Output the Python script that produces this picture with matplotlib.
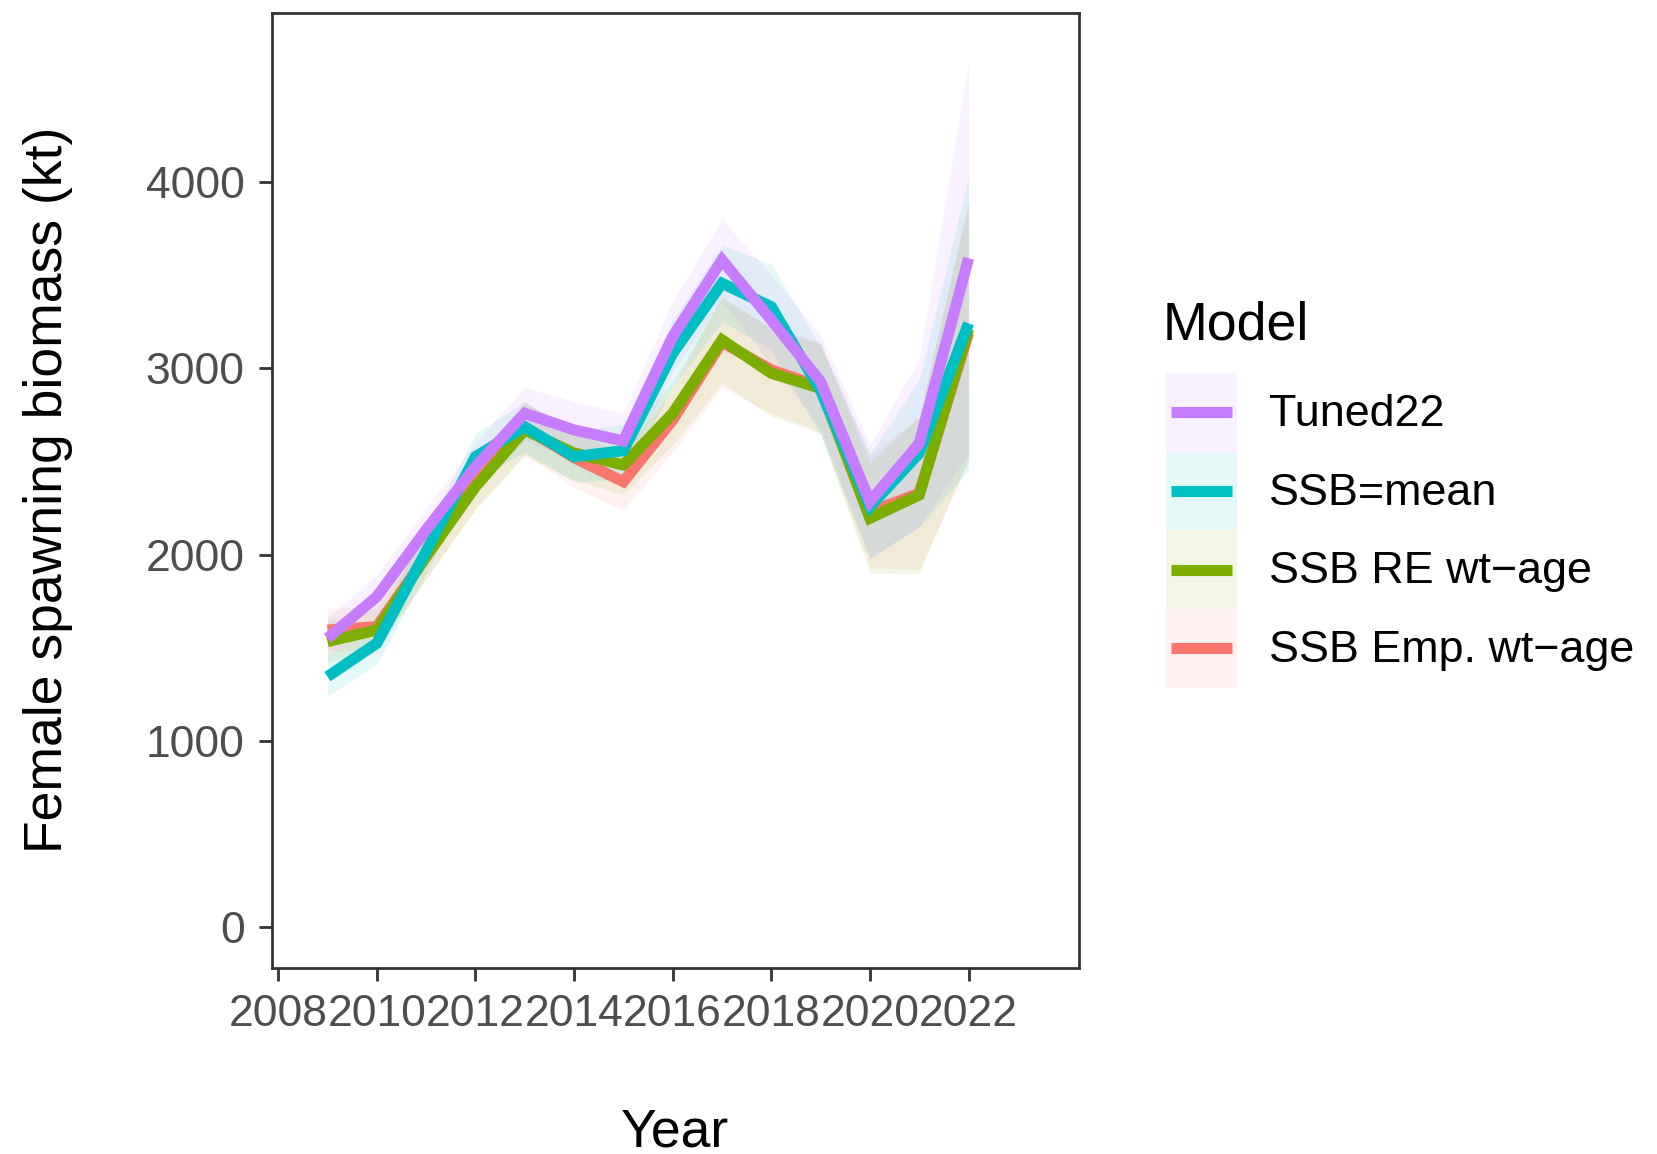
import matplotlib
matplotlib.use("Agg")
import matplotlib.pyplot as plt
from matplotlib.patches import Rectangle
from matplotlib.lines import Line2D
from matplotlib.legend_handler import HandlerTuple, HandlerBase

plt.rcParams['font.family'] = ['Liberation Sans', 'DejaVu Sans']

years = [2009, 2010, 2011, 2012, 2013, 2014, 2015, 2016, 2017, 2018, 2019, 2020, 2021, 2022]

models = ["Tuned22", "SSB=mean", "SSB RE wt\u2212age", "SSB Emp. wt\u2212age"]
colors = ["#C77CFF", "#00BFC4", "#7CAE00", "#F8766D"]

tuned22 = [1551, 1774, 2132, 2472, 2758, 2669, 2610, 3169, 3581, 3259, 2928, 2284, 2597, 3590]
tuned22_lo = [1440, 1660, 2010, 2340, 2610, 2520, 2450, 2980, 3360, 3020, 2680, 1980, 2150, 2540]
tuned22_hi = [1660, 1890, 2250, 2600, 2900, 2820, 2760, 3360, 3800, 3500, 3180, 2590, 3050, 4640]

ssb_mean = [1345, 1524, 2017, 2525, 2686, 2525, 2558, 3080, 3456, 3330, 2880, 2257, 2544, 3241]
ssb_mean_lo = [1240, 1410, 1900, 2400, 2550, 2390, 2400, 2900, 3250, 3100, 2640, 1980, 2150, 2450]
ssb_mean_hi = [1450, 1640, 2130, 2650, 2820, 2660, 2700, 3260, 3660, 3560, 3120, 2540, 2940, 4030]

re_wtage = [1533, 1595, 1989, 2364, 2669, 2545, 2481, 2758, 3152, 2973, 2892, 2195, 2320, 3210]
re_wtage_lo = [1420, 1480, 1870, 2240, 2530, 2400, 2320, 2590, 2920, 2740, 2650, 1900, 1900, 2520]
re_wtage_hi = [1650, 1710, 2110, 2490, 2810, 2690, 2620, 2930, 3380, 3210, 3130, 2490, 2740, 3900]

emp_wtage = [1595, 1613, 1990, 2380, 2680, 2520, 2391, 2722, 3140, 2991, 2900, 2230, 2329, 3188]
emp_wtage_lo = [1480, 1500, 1870, 2250, 2540, 2360, 2240, 2550, 2900, 2760, 2660, 1930, 1920, 2500]
emp_wtage_hi = [1710, 1730, 2110, 2510, 2820, 2660, 2540, 2890, 3380, 3220, 3140, 2530, 2740, 3880]

series = [tuned22, ssb_mean, re_wtage, emp_wtage]
lows = [tuned22_lo, ssb_mean_lo, re_wtage_lo, emp_wtage_lo]
highs = [tuned22_hi, ssb_mean_hi, re_wtage_hi, emp_wtage_hi]

xticks = [2008, 2010, 2012, 2014, 2016, 2018, 2020, 2022]
yticks = [0, 1000, 2000, 3000, 4000]

fig = plt.figure(figsize=(16.58, 11.54), dpi=100)
ax = fig.add_axes([0.1639, 0.1616, 0.4866, 0.8274])

dark = "#333333"
lw = 8.0
alpha = 0.10

# draw in ggplot factor order (reverse of legend): red, green, teal, purple
order = [3, 2, 1, 0]
for i in order:
    ax.fill_between(years, lows[i], highs[i], color=colors[i], alpha=alpha, linewidth=0)
for i in order:
    ax.plot(years, series[i], color=colors[i], lw=lw, solid_joinstyle='miter',
            solid_capstyle='butt')

ax.set_xlim(2007.87, 2024.23)
ax.set_ylim(-216, 4908)
ax.set_xticks(xticks)
ax.set_xticklabels([str(t) for t in xticks])
ax.set_yticks(yticks)
ax.set_yticklabels([str(t) for t in yticks])

for s in ax.spines.values():
    s.set_color(dark)
    s.set_linewidth(2.0)
ax.tick_params(axis='both', colors=dark, width=2.0, length=9.5, labelsize=32,
               labelcolor="#4D4D4D")
ax.tick_params(axis='x', pad=9.5)
ax.tick_params(axis='y', pad=10)

ax.set_xlabel("Year", fontsize=38.5, color="black", labelpad=52)
ax.set_ylabel("Female spawning biomass (kt)", fontsize=38.5, color="black", labelpad=52)

# legend title
fig.text(1163 / 1658, 1 - 340 / 1154, "Model", fontsize=38.7, color="black",
         ha='left', va='baseline')


class CenteredLineHandler(HandlerBase):
    def create_artists(self, legend, orig_handle, xdescent, ydescent, width, height,
                       fontsize, trans):
        y = height / 2.0 - ydescent
        inset = 0.07 * width
        line = Line2D([-xdescent + inset, width - xdescent - inset], [y, y],
                      color=orig_handle.get_color(), lw=orig_handle.get_linewidth(),
                      solid_capstyle='butt')
        line.set_transform(trans)
        return [line]


handles = []
for i in range(4):
    p = Rectangle((0, 0), 1, 1, facecolor=colors[i], alpha=alpha, edgecolor='none')
    l = Line2D([0], [0], color=colors[i], lw=lw)
    handles.append((p, l))

leg = fig.legend(handles, models, loc='upper left', bbox_to_anchor=(1166 / 1658, 1 - 373 / 1154),
                 frameon=False, fontsize=32.3,
                 handlelength=1.58, handleheight=2.32, labelspacing=0.0,
                 handletextpad=0.71, borderpad=0, borderaxespad=0,
                 handler_map={tuple: HandlerTuple(ndivide=1, pad=0),
                              Line2D: CenteredLineHandler()})

fig.savefig("out.png", dpi=100)
